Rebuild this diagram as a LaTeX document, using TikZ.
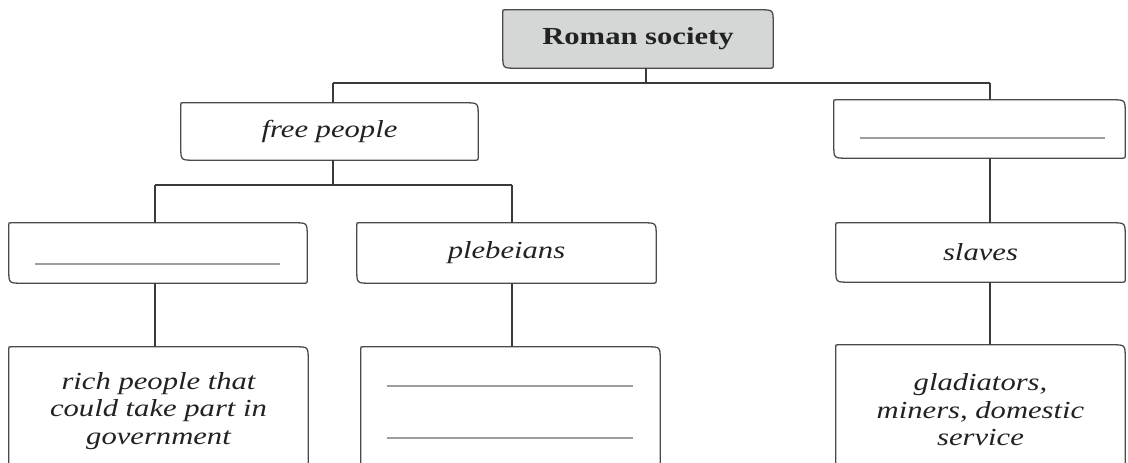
\documentclass[tikz,border=0pt]{standalone}
\usepackage{fontspec}
\setmainfont{Liberation Serif}[FakeStretch=1.25]
\usetikzlibrary{calc}
\definecolor{edgegray}{HTML}{4A4A4A}
\definecolor{conngray}{HTML}{3A3A3A}
\definecolor{headfill}{HTML}{D5D7D7}
\definecolor{blankgray}{HTML}{9C9C9C}
\definecolor{txtgray}{HTML}{222222}
\tikzset{
  boxline/.style={draw=edgegray, line width=1.3pt},
  box/.style={draw=none, inner sep=0pt, text=txtgray, align=center,
    font=\fontsize{24.5}{27.5}\selectfont\itshape},
  conn/.style={draw=conngray, line width=1.2pt},
  blankline/.style={draw=blankgray, line width=1.6pt}
}
% outline with large rounding at top-right and bottom-left, small elsewhere
\newcommand\boxshape[2][]{%
  \draw[boxline,#1] ($(#2.north west)+(2,0)$) -- ($(#2.north east)+(-13,0)$)
    .. controls (#2.north east) .. ($(#2.north east)+(0,13)$)
    -- ($(#2.south east)+(0,-4)$)
    .. controls (#2.south east) .. ($(#2.south east)+(-4,0)$)
    -- ($(#2.south west)+(13,0)$)
    .. controls (#2.south west) .. ($(#2.south west)+(0,-13)$)
    -- ($(#2.north west)+(0,2)$)
    .. controls (#2.north west) .. ($(#2.north west)+(2,0)$) -- cycle;}
\begin{document}
\begin{tikzpicture}[x=1pt,y=-1pt]
\useasboundingbox (0,0) rectangle (1128,463);
\clip (0,0) rectangle (1128,463);
\fill[white] (0,0) rectangle (1128,463);

% nodes
\node[box, minimum width=270pt, minimum height=58pt,
  font=\fontsize{24.5}{27.5}\selectfont\bfseries] (rs) at (638,39) {};
\node[box, minimum width=297pt, minimum height=57pt] (free) at (329.5,131.5) {free people};
\node[box, minimum width=291pt, minimum height=58pt] (rb) at (979.5,129) {};
\node[box, minimum width=298pt, minimum height=60pt] (pat) at (158,253) {};
\node[box, minimum width=299pt, minimum height=60pt] (pleb) at (506.5,253) {plebeians};
\node[box, minimum width=289pt, minimum height=59pt] (slv) at (980.5,252.5) {slaves};
\node[box, minimum width=299pt, minimum height=128pt] (rich) at (158.5,411)
  {rich people that\\could take part in\\government};
\node[box, minimum width=299pt, minimum height=128pt] (mid) at (510.5,411) {};
\node[box, minimum width=289pt, minimum height=130pt] (gl) at (980.5,410)
  {gladiators,\\miners, domestic\\service};

% outlines
\boxshape[fill=headfill]{rs}
\node[box, font=\fontsize{24.5}{27.5}\selectfont\bfseries] (rstext) at (rs) {Roman society};
\boxshape{free}
\boxshape{rb}
\boxshape{pat}
\boxshape{pleb}
\boxshape{slv}
\boxshape{rich}
\boxshape{mid}
\boxshape{gl}

% blanks to fill in
\draw[blankline] (860,138) -- (1105,138);
\draw[blankline] (35,264) -- (280,264);
\draw[blankline] (387,386) -- (633,386);
\draw[blankline] (387,438) -- (633,438);

% connectors
\coordinate (b1L) at (333,83);
\coordinate (b1M) at (646,83);
\coordinate (b1R) at (990,83);
\draw[conn] (b1L) -- (b1R);
\draw[conn] (rs.south -| b1M) -- (b1M);
\draw[conn] (b1L) -- (b1L |- free.north);
\draw[conn] (b1R) -- (b1R |- rb.north);

\coordinate (b2L) at (155,185);
\coordinate (b2M) at (333,185);
\coordinate (b2R) at (512,185);
\draw[conn] (free.south -| b2M) -- (b2M);
\draw[conn] (b2L) -- (b2R);
\draw[conn] (b2L) -- (b2L |- pat.north);
\draw[conn] (b2R) -- (b2R |- pleb.north);
\draw[conn] (pat.south -| b2L) -- (rich.north -| b2L);
\draw[conn] (pleb.south -| b2R) -- (mid.north -| b2R);
\draw[conn] (rb.south -| b1R) -- (slv.north -| b1R);
\draw[conn] (slv.south -| b1R) -- (gl.north -| b1R);
\end{tikzpicture}
\end{document}
